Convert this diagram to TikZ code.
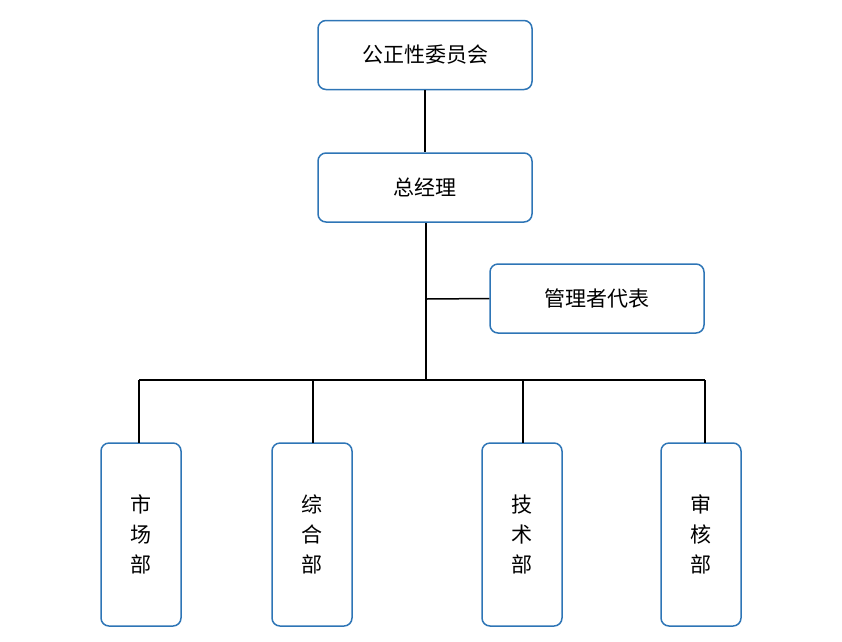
\documentclass[tikz,border=0pt]{standalone}
\usepackage{fontspec}
\setmainfont{Noto Sans CJK SC}
\begin{document}
\begin{tikzpicture}[x=1pt,y=-1pt,
  box/.style={draw={rgb,255:red,46;green,117;blue,182},line width=1.5pt,rounded corners=8pt,align=center,font=\fontsize{21}{30}\selectfont,inner sep=0pt},
  wide/.style={box,minimum width=214pt,minimum height=69pt},
  tall/.style={box,minimum width=80pt,minimum height=183pt},
  ln/.style={line width=1.5pt}]
\useasboundingbox (0,0) rectangle (842,641);
\node[wide] (a) at (425,55) {公正性委员会};
\node[wide] (b) at (425,187.5) {总经理};
\node[wide] (c) at (597,298.5) {管理者代表};
\node[tall] (d1) at (141,534.5) {市\\场\\部};
\node[tall] (d2) at (312,534.5) {综\\合\\部};
\node[tall] (d3) at (522,534.5) {技\\术\\部};
\node[tall] (d4) at (701,534.5) {审\\核\\部};
\coordinate (j) at (426,380);
\coordinate (m) at (426,299);
\draw[ln] (a) -- (b);
\draw[ln] (b.south -| j) -- (j);
\draw[ln] (m) -- (c.west);
\draw[ln] (139,380) -- (705,380);
\draw[ln] (139,380) -- (139,443);
\draw[ln] (313,380) -- (313,443);
\draw[ln] (523,380) -- (523,443);
\draw[ln] (705,380) -- (705,443);
\end{tikzpicture}
\end{document}
